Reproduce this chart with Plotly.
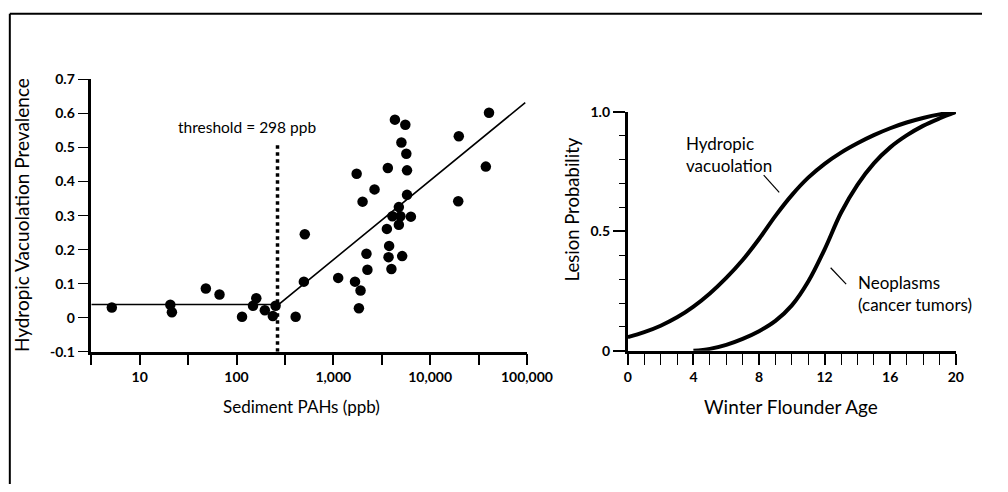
import plotly.graph_objects as go

W, H = 1008, 492

# ---------------- Data: left panel ----------------
pah_ppb = [5.15, 20.7, 21.5, 48.2, 66.7, 114, 148, 160, 196, 237, 253, 408, 496, 507,
           4325, 5540, 40550, 19770, 5047, 5675, 1741, 3656, 5770, 37600, 2663, 2004,
           5770, 19500, 4750, 4074, 4935, 6325, 4750, 3573, 3770, 2198, 3718, 5140,
           2249, 3980, 1122, 1674, 1910, 1837]
prevalence = [0.030, 0.038, 0.016, 0.086, 0.068, 0.003, 0.035, 0.057, 0.022, 0.005, 0.035, 0.003, 0.106, 0.245,
              0.582, 0.567, 0.602, 0.533, 0.515, 0.482, 0.423, 0.440, 0.433, 0.444, 0.377, 0.341,
              0.361, 0.342, 0.325, 0.298, 0.298, 0.297, 0.273, 0.261, 0.211, 0.188, 0.178, 0.181,
              0.141, 0.143, 0.117, 0.106, 0.080, 0.028]

fit_x = [3.16, 273, 96000]
fit_y = [0.039, 0.039, 0.632]

threshold_x = 265
threshold_y = [-0.1, 0.51]

left_xtick_vals = [3.16, 10, 31.6, 100, 316, 1000, 3162, 10000, 31623, 100000]
left_xtick_text = ["", "10", "", "100", "", "1,000", "", "10,000", "", "100,000"]
left_ytick_vals = [-0.1, 0, 0.1, 0.2, 0.3, 0.4, 0.5, 0.6, 0.7]
left_ytick_text = ["-0.1", "0", "0.1", "0.2", "0.3", "0.4", "0.5", "0.6", "0.7"]

# ---------------- Data: right panel ----------------
age_hyd = list(range(0, 21))
prob_hyd = [0.057, 0.078, 0.105, 0.140, 0.185, 0.240, 0.305, 0.380, 0.468, 0.565, 0.652,
            0.725, 0.783, 0.830, 0.869, 0.903, 0.932, 0.956, 0.975, 0.990, 1.000]
age_neo = list(range(4, 21))
prob_neo = [0.000, 0.008, 0.025, 0.050, 0.082, 0.125, 0.190, 0.290, 0.425, 0.578, 0.695,
            0.785, 0.852, 0.902, 0.942, 0.973, 1.000]

right_xtick_vals = [0, 4, 8, 12, 16, 20]
right_xtick_text = ["0", "4", "8", "12", "16", "20"]
right_ytick_vals = [0, 0.5, 1.0]
right_ytick_text = ["0", "0.5", "1.0"]

FONT = "Lato"


def px(xp):
    return xp / W


def py(yp):
    return 1 - yp / H


fig = go.Figure()

# left panel traces
fig.add_trace(go.Scatter(x=fit_x, y=fit_y, mode="lines",
                         line=dict(color="black", width=1.6),
                         xaxis="x", yaxis="y", showlegend=False, hoverinfo="skip"))
fig.add_trace(go.Scatter(x=[threshold_x, threshold_x], y=threshold_y, mode="lines",
                         line=dict(color="black", width=3.5, dash="dot"),
                         xaxis="x", yaxis="y", showlegend=False, hoverinfo="skip"))
fig.add_trace(go.Scatter(x=pah_ppb, y=prevalence, mode="markers",
                         marker=dict(color="black", size=10.5),
                         xaxis="x", yaxis="y", showlegend=False, cliponaxis=False))

# right panel traces
fig.add_trace(go.Scatter(x=age_hyd, y=prob_hyd, mode="lines",
                         line=dict(color="black", width=4, shape="spline", smoothing=1.0),
                         xaxis="x2", yaxis="y2", showlegend=False, cliponaxis=False))
fig.add_trace(go.Scatter(x=age_neo, y=prob_neo, mode="lines",
                         line=dict(color="black", width=4, shape="spline", smoothing=1.0),
                         xaxis="x2", yaxis="y2", showlegend=False, cliponaxis=False))

tickfont = dict(family=FONT, size=14, color="black", weight="bold")

fig.update_layout(
    width=W, height=H,
    margin=dict(l=0, r=0, t=0, b=0),
    paper_bgcolor="white", plot_bgcolor="white",
    font=dict(family=FONT, color="black"),
    xaxis=dict(type="log", range=[0.5, 5], domain=[px(90), px(539)], anchor="y",
               showline=True, linecolor="black", linewidth=2.5,
               ticks="outside", ticklen=11, tickwidth=1.5, tickcolor="black",
               tickvals=left_xtick_vals, ticktext=left_xtick_text, tickfont=tickfont,
               showgrid=False, zeroline=False),
    yaxis=dict(range=[-0.1, 0.7], domain=[py(355), py(73)], anchor="x",
               showline=True, linecolor="black", linewidth=2.5,
               ticks="outside", ticklen=11, tickwidth=1.2, tickcolor="black",
               tickvals=left_ytick_vals, ticktext=left_ytick_text, tickfont=tickfont,
               showgrid=False, zeroline=False),
    xaxis2=dict(range=[0, 20], domain=[px(643), px(981)], anchor="y2",
                showline=True, linecolor="black", linewidth=3,
                ticks="outside", ticklen=11, tickwidth=1.5, tickcolor="black",
                tickvals=right_xtick_vals, ticktext=right_xtick_text, tickfont=tickfont,
                minor=dict(dtick=1, ticks="outside", ticklen=11, tickwidth=1.2, tickcolor="black"),
                showgrid=False, zeroline=False),
    yaxis2=dict(range=[0, 1], domain=[py(354), py(106.7)], anchor="x2",
                showline=True, linecolor="black", linewidth=3,
                ticks="outside", ticklen=12, tickwidth=1.5, tickcolor="black",
                tickvals=right_ytick_vals, ticktext=right_ytick_text, tickfont=tickfont,
                minor=dict(dtick=0.1, ticks="outside", ticklen=6, tickwidth=1, tickcolor="black"),
                showgrid=False, zeroline=False),
)


def f(size):
    return dict(family=FONT, size=size, color="black")


annotations = [
    dict(text="Hydropic Vacuolation Prevalence", xref="paper", yref="paper",
         x=px(18), y=py(213), textangle=-90, showarrow=False, font=f(19),
         xanchor="center", yanchor="middle"),
    dict(text="Sediment PAHs (ppb)", xref="paper", yref="paper",
         x=px(307), y=py(412), showarrow=False, font=f(17),
         xanchor="center", yanchor="middle"),
    dict(text="threshold = 298 ppb", xref="paper", yref="paper",
         x=px(250), y=py(122), showarrow=False, font=f(15.5),
         xanchor="center", yanchor="middle"),
    dict(text="Lesion Probability", xref="paper", yref="paper",
         x=px(585), y=py(208), textangle=-90, showarrow=False, font=f(18.5),
         xanchor="center", yanchor="middle"),
    dict(text="Winter Flounder Age", xref="paper", yref="paper",
         x=px(811), y=py(412), showarrow=False, font=f(19),
         xanchor="center", yanchor="middle"),
    dict(text="Hydropic<br>vacuolation", xref="paper", yref="paper",
         x=px(701), y=py(151), showarrow=False, font=f(17),
         xanchor="left", yanchor="middle", align="left"),
    dict(text="Neoplasms<br>(cancer tumors)", xref="paper", yref="paper",
         x=px(878), y=py(295), showarrow=False, font=f(17),
         xanchor="left", yanchor="middle", align="left"),
]
fig.update_layout(annotations=annotations)

shapes = [
    # pointer lines
    dict(type="line", xref="paper", yref="paper", x0=px(783), y0=py(172), x1=px(799), y1=py(190),
         line=dict(color="black", width=1.2)),
    dict(type="line", xref="paper", yref="paper", x0=px(852), y0=py(268), x1=px(868), y1=py(285),
         line=dict(color="black", width=1.2)),
    # frame
    dict(type="line", xref="paper", yref="paper", x0=px(6), y0=py(5), x1=1, y1=py(5),
         line=dict(color="black", width=2)),
    dict(type="line", xref="paper", yref="paper", x0=px(6), y0=0, x1=px(6), y1=py(5),
         line=dict(color="black", width=2)),
]
fig.update_layout(shapes=shapes)

post = (
    "document.documentElement.style.margin='0';"
    "document.documentElement.style.overflow='hidden';"
    "document.body.style.margin='0';document.body.style.padding='0';"
    "document.body.style.overflow='hidden';"
    "var d=document.getElementById('{plot_id}');"
    "d.style.position='fixed';d.style.top='0px';d.style.left='0px';"
)
fig.write_html("out.html", config={"displayModeBar": False}, post_script=post)
